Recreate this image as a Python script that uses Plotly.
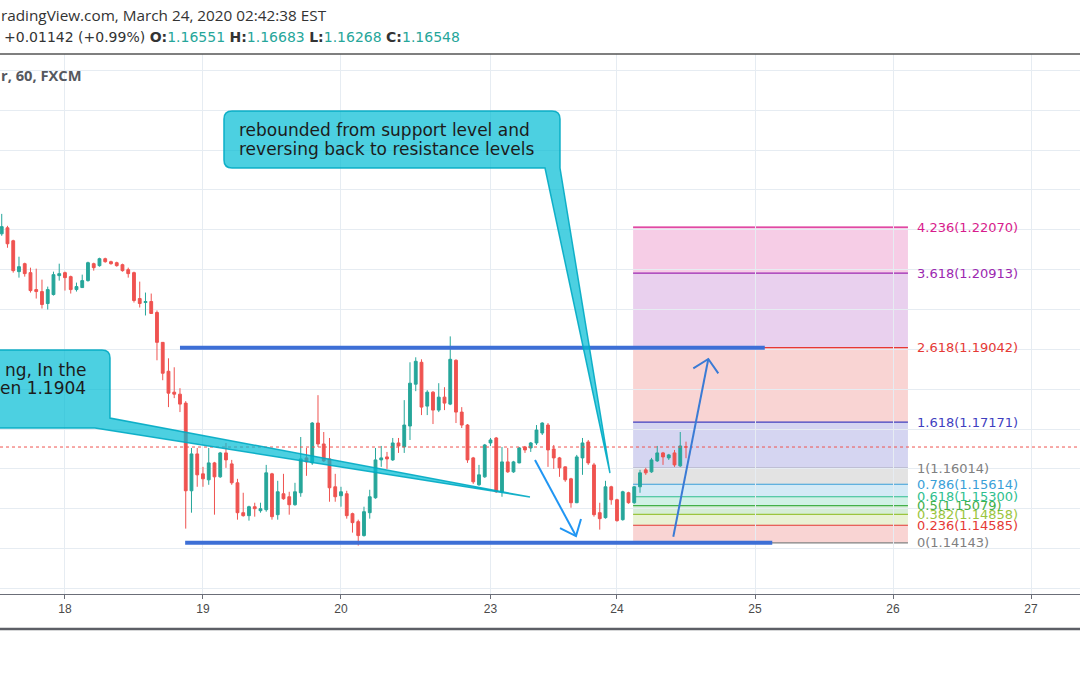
import plotly.graph_objects as go

# ---------------- data ----------------
# hourly bars, x = hours since Mar 18 00:00 on a trading-time axis
hours = list(range(-11, 109))

opens = [1.2190, 1.2205, 1.21725, 1.2095, 1.2115, 1.20925, 1.205, 1.2045, 1.2015, 1.20375,
         1.2085, 1.20925, 1.20825, 1.205, 1.2055, 1.20725, 1.2115, 1.211, 1.21275, 1.212,
         1.21175, 1.21125, 1.21, 1.20925, 1.20275, 1.20175, 1.202, 1.19925, 1.19175, 1.1845,
         1.17925, 1.17875, 1.1765, 1.1545, 1.16375, 1.15875, 1.15725, 1.1615, 1.158, 1.164,
         1.16125, 1.1565, 1.149, 1.14825, 1.1505, 1.1495, 1.14975, 1.15875, 1.1485, 1.15375,
         1.153, 1.151, 1.154, 1.16275, 1.1615, 1.1715, 1.16625, 1.1625, 1.1555, 1.15325,
         1.15375, 1.14875, 1.14675, 1.14325, 1.149, 1.15275, 1.16225, 1.163, 1.16225, 1.1665,
         1.1655, 1.17075, 1.18125, 1.18675, 1.17575, 1.17925, 1.17475, 1.178, 1.17625, 1.18725,
         1.17425, 1.171, 1.16275, 1.156, 1.158, 1.1665, 1.16775, 1.15425, 1.16175, 1.15925,
         1.1615, 1.1655, 1.16525, 1.1665, 1.169, 1.171, 1.165, 1.16275, 1.1605, 1.1575,
         1.1515, 1.16275, 1.16675, 1.161, 1.149, 1.14775, 1.1555, 1.15225, 1.14725, 1.154,
         1.1515, 1.1555, 1.15975, 1.15925, 1.162, 1.164, 1.16275, 1.164, 1.16075, 1.16551]
highs = [1.2240, 1.2210, 1.2175, 1.21325, 1.21175, 1.2105, 1.21025, 1.2075, 1.20575, 1.2095,
         1.2115, 1.2095, 1.2085, 1.20675, 1.20875, 1.212, 1.21175, 1.213, 1.213, 1.21225,
         1.212, 1.2115, 1.2105, 1.2095, 1.207, 1.20425, 1.204, 1.19975, 1.1918, 1.18775,
         1.1855, 1.18025, 1.177, 1.16525, 1.16525, 1.1605, 1.16525, 1.16175, 1.16425, 1.1665,
         1.16225, 1.1575, 1.154, 1.15075, 1.1515, 1.1515, 1.161, 1.159, 1.157, 1.15875,
         1.15425, 1.1565, 1.168, 1.16525, 1.17175, 1.1785, 1.16925, 1.16775, 1.15875, 1.1555,
         1.1545, 1.149, 1.14725, 1.1505, 1.15475, 1.16525, 1.16575, 1.16425, 1.16775, 1.16775,
         1.17725, 1.18675, 1.188, 1.1875, 1.17975, 1.1795, 1.1815, 1.1805, 1.19325, 1.1875,
         1.1755, 1.17125, 1.163, 1.161, 1.16625, 1.16775, 1.168, 1.1655, 1.16525, 1.162,
         1.1655, 1.16575, 1.16675, 1.171, 1.1717, 1.1715, 1.166, 1.163, 1.1606, 1.15775,
         1.1635, 1.16775, 1.16725, 1.1615, 1.1515, 1.157, 1.15575, 1.1525, 1.1545, 1.15425,
         1.1557, 1.15975, 1.16025, 1.16275, 1.16575, 1.16425, 1.16375, 1.16475, 1.16925, 1.16683]
lows = [1.2185, 1.2155, 1.20925, 1.208, 1.20825, 1.20425, 1.20275, 1.20025, 1.2000, 1.2035,
        1.20725, 1.20475, 1.204, 1.2045, 1.2054, 1.207, 1.20975, 1.21075, 1.21175, 1.21125,
        1.21075, 1.2095, 1.208, 1.20175, 1.2005, 1.1985, 1.1989, 1.18725, 1.18225, 1.1755,
        1.17775, 1.17425, 1.145, 1.149, 1.1555, 1.1555, 1.156, 1.1485, 1.15775, 1.16025,
        1.156, 1.14725, 1.148, 1.147, 1.148, 1.149, 1.14925, 1.14725, 1.14725, 1.15225,
        1.1485, 1.15075, 1.153, 1.15825, 1.161, 1.1655, 1.16175, 1.15175, 1.15175, 1.1505,
        1.1475, 1.144, 1.14075, 1.143, 1.1475, 1.1525, 1.1605, 1.16, 1.162, 1.164,
        1.164, 1.16725, 1.1795, 1.1735, 1.1735, 1.17125, 1.17425, 1.17475, 1.176, 1.1715,
        1.17025, 1.1615, 1.15625, 1.15575, 1.15775, 1.16575, 1.154, 1.153, 1.159, 1.159,
        1.1614, 1.164, 1.16425, 1.166, 1.1685, 1.1605, 1.16, 1.158, 1.15675, 1.15025,
        1.1514, 1.1585, 1.161, 1.148, 1.14475, 1.1475, 1.151, 1.14675, 1.147, 1.15125,
        1.15125, 1.154, 1.1585, 1.159, 1.16175, 1.161, 1.16225, 1.1605, 1.1605, 1.16268]
closes = [1.2208, 1.2165, 1.20975, 1.21075, 1.209, 1.20475, 1.2045, 1.20125, 1.2050, 1.20875,
          1.209, 1.208, 1.205, 1.20575, 1.20725, 1.21175, 1.2105, 1.21275, 1.212, 1.2115,
          1.211, 1.20975, 1.209, 1.20225, 1.2015, 1.202, 1.199, 1.19175, 1.184, 1.179,
          1.17875, 1.17625, 1.1545, 1.16375, 1.1585, 1.1575, 1.1615, 1.158, 1.164, 1.16225,
          1.1565, 1.149, 1.14825, 1.1505, 1.15, 1.15, 1.159, 1.148, 1.15425, 1.1525,
          1.151, 1.15425, 1.1625, 1.16175, 1.1715, 1.16625, 1.162, 1.15525, 1.153, 1.15425,
          1.14825, 1.1465, 1.14325, 1.14925, 1.153, 1.16225, 1.16275, 1.1625, 1.1665, 1.16575,
          1.171, 1.1815, 1.187, 1.1755, 1.17925, 1.17475, 1.178, 1.1765, 1.1875, 1.17425,
          1.171, 1.16225, 1.15675, 1.1585, 1.166, 1.16725, 1.15425, 1.16175, 1.15925, 1.16175,
          1.16525, 1.16475, 1.1665, 1.16975, 1.1715, 1.16475, 1.16275, 1.16025, 1.15725, 1.1515,
          1.163, 1.1665, 1.1615, 1.1485, 1.1475, 1.1555, 1.15225, 1.147, 1.15425, 1.1515,
          1.1555, 1.159, 1.159, 1.16225, 1.164, 1.163, 1.1635, 1.161, 1.16575, 1.16548]

# x-axis day labels (trading-time hour index)
day_ticks = [0, 24, 48, 74, 96, 120, 144, 168]
day_labels = ["18", "19", "20", "23", "24", "25", "26", "27"]

# Fibonacci extension
fib_ratios = ["0", "0.236", "0.382", "0.5", "0.618", "0.786", "1", "1.618", "2.618", "3.618", "4.236"]
fib_prices = [1.14143, 1.14585, 1.14858, 1.15079, 1.15300, 1.15614, 1.16014, 1.17171, 1.19042, 1.20913, 1.22070]
fib_colors = ["#808080", "#e53935", "#9bc53d", "#43b049", "#2fbf8f", "#3a9fd8", "#808080",
              "#3f3fbf", "#e53935", "#9c27b0", "#d81b8c"]
fib_span = [98.8, 146.6]          # hour index start / end of the fib box
fib_label_x = 147.8

# support / resistance
sr_prices = [1.19042, 1.14143]
sr_starts = [20.0, 20.9]
sr_ends = [121.7, 123.0]

last_price = 1.16548

# header quote (current bar)
hdr_change = "+0.01142 (+0.99%)"
hdr_keys = ["O:", "H:", "L:", "C:"]
hdr_vals = ["1.16551", "1.16683", "1.16268", "1.16548"]

# callout texts
upper_lines = ["rebounded from support level and", "reversing back to resistance levels"]
upper_line_prices = [1.24494, 1.24017]
left_lines = ["ng, In the", "en 1.1904"]
left_line_prices = [1.18481, 1.18029]

# ---------------- styling ----------------
UP = "#26a69a"
DOWN = "#ef5350"
GRID = "#e6ecf2"
X_RANGE = [-11.30, 176.52]
Y_RANGE = [1.12859, 1.26413]

fig = go.Figure()
fig.add_trace(go.Candlestick(
    x=hours, open=opens, high=highs, low=lows, close=closes,
    increasing=dict(line=dict(color=UP, width=1), fillcolor=UP),
    decreasing=dict(line=dict(color=DOWN, width=1), fillcolor=DOWN),
    whiskerwidth=0, showlegend=False, hoverinfo="skip",
))

shapes = []
annotations = []

def rgba(hexc, a):
    h = hexc.lstrip("#")
    return "rgba(%d,%d,%d,%s)" % (int(h[0:2], 16), int(h[2:4], 16), int(h[4:6], 16), a)

# fib zones
for i in range(1, len(fib_prices)):
    shapes.append(dict(type="rect", xref="x", yref="y", x0=fib_span[0], x1=fib_span[1],
                       y0=fib_prices[i - 1], y1=fib_prices[i],
                       fillcolor=rgba(fib_colors[i], 0.22), line=dict(width=0), layer="below"))
# fib lines + labels
for r, p, c in zip(fib_ratios, fib_prices, fib_colors):
    shapes.append(dict(type="line", xref="x", yref="y", x0=fib_span[0], x1=fib_span[1],
                       y0=p, y1=p, line=dict(color=c, width=1.2), layer="below"))
    annotations.append(dict(x=fib_label_x, y=p, xref="x", yref="y", xanchor="left", yanchor="middle",
                            text="%s(%.5f)" % (r, p), showarrow=False,
                            font=dict(family="DejaVu Sans", size=13, color=c)))

# last price dotted line
shapes.append(dict(type="line", xref="paper", yref="y", x0=0, x1=1, y0=last_price, y1=last_price,
                   line=dict(color=DOWN, width=1, dash="dot"), layer="above"))

# support / resistance lines
for p, a, b in zip(sr_prices, sr_starts, sr_ends):
    shapes.append(dict(type="line", xref="x", yref="y", x0=a, x1=b, y0=p, y1=p,
                       line=dict(color="#3d6fd6", width=4), layer="above"))

def pth(cmds):
    return " ".join(cmds)

# callouts
CALL_FILL = "rgba(0,188,212,0.70)"
CALL_LINE = "rgba(0,170,195,0.9)"
rh, rp = 1.39, 0.002
h1, h2, pt, pb = 27.65, 86.09, 1.24982, 1.23551
tip1 = (94.78, 1.15896)
base1 = 83.48
up_path = pth([
    f"M {h1+rh},{pt}", f"L {h2-rh},{pt}", f"Q {h2},{pt} {h2},{pt-rp}", f"L {h2},{pb}",
    f"L {tip1[0]},{tip1[1]}", f"L {base1},{pb}", f"L {h1+rh},{pb}",
    f"Q {h1},{pb} {h1},{pb+rp}", f"L {h1},{pt-rp}", f"Q {h1},{pt} {h1+rh},{pt}", "Z"])
shapes.append(dict(type="path", xref="x", yref="y", path=up_path, fillcolor=CALL_FILL,
                   line=dict(color=CALL_LINE, width=1.5), layer="above"))

hl, hr, lt, lb = -14.0, 7.83, 1.18983, 1.17025
tip2 = (80.87, 1.15293)
left_path = pth([
    f"M {hl},{lt}", f"L {hr-rh},{lt}", f"Q {hr},{lt} {hr},{lt-rp}", f"L {hr},1.17276",
    f"L {tip2[0]},{tip2[1]}", f"L 5.22,{lb}", f"L {hl},{lb}", "Z"])
shapes.append(dict(type="path", xref="x", yref="y", path=left_path, fillcolor=CALL_FILL,
                   line=dict(color=CALL_LINE, width=1.5), layer="above"))

CALL_FONT = dict(family="DejaVu Sans", size=17, color="#1c1c1c")
for txt, p in zip(upper_lines, upper_line_prices):
    annotations.append(dict(x=29.9, y=p, xref="x", yref="y", xanchor="left", yanchor="middle",
                            showarrow=False, text=txt, font=CALL_FONT))
for txt, p in zip(left_lines, left_line_prices):
    annotations.append(dict(x=4.0, y=p, xref="x", yref="y", xanchor="right", yanchor="middle",
                            showarrow=False, text=txt, font=CALL_FONT))

# arrows (shaft + open head)
arrows = [
    dict(start=(81.74, 1.16222), tip=(88.87, 1.14314), l=(86.09, 1.14515), r=(89.74, 1.14741), color="#2196f3"),
    dict(start=(105.79, 1.14297), tip=(111.88, 1.18757), l=(109.27, 1.18524), r=(113.62, 1.18398), color="#3a7bd5"),
]
for a in arrows:
    shapes.append(dict(type="line", xref="x", yref="y", x0=a["start"][0], y0=a["start"][1],
                       x1=a["tip"][0], y1=a["tip"][1], line=dict(color=a["color"], width=2), layer="above"))
    shapes.append(dict(type="path", xref="x", yref="y",
                       path=f"M {a['l'][0]},{a['l'][1]} L {a['tip'][0]},{a['tip'][1]} L {a['r'][0]},{a['r'][1]}",
                       line=dict(color=a["color"], width=2), fillcolor="rgba(0,0,0,0)", layer="above"))

# frame lines
shapes.append(dict(type="line", xref="paper", yref="paper", x0=0, x1=1, y0=1, y1=1,
                   line=dict(color="#555555", width=1.5)))
shapes.append(dict(type="line", xref="paper", yref="paper", x0=0, x1=1, y0=-0.0648, y1=-0.0648,
                   line=dict(color="#5d5f66", width=2.5)))

# header texts
annotations.append(dict(x=-0.001, y=1.0722, xref="paper", yref="paper", xanchor="left", yanchor="middle",
                        showarrow=False, text="radingView.com, March 24, 2020 02:42:38 EST",
                        font=dict(family="Open Sans", size=15.3, color="#333333")))
teal = "#26a69a"
hdr2 = hdr_change + " " + " ".join(
    f"<b>{k}</b><span style='color:{teal}'>{v}</span>" for k, v in zip(hdr_keys, hdr_vals))
annotations.append(dict(x=0.002, y=1.0315, xref="paper", yref="paper", xanchor="left", yanchor="middle",
                        showarrow=False, text=hdr2,
                        font=dict(family="DejaVu Sans", size=14, color="#333333")))
annotations.append(dict(x=-0.001, y=0.961, xref="paper", yref="paper", xanchor="left", yanchor="middle",
                        showarrow=False, text="<b>r, 60, FXCM</b>",
                        font=dict(family="Open Sans", size=14.7, color="#55585f")))

fig.update_layout(
    width=1080, height=675,
    margin=dict(l=0, r=0, t=54, b=81),
    paper_bgcolor="white", plot_bgcolor="white",
    showlegend=False,
    shapes=shapes, annotations=annotations,
    xaxis=dict(range=X_RANGE, tickmode="array", tickvals=day_ticks, ticktext=day_labels,
               showgrid=True, gridcolor=GRID, gridwidth=1, zeroline=False,
               showline=True, linecolor="#6b6e78", linewidth=1,
               ticks="outside", ticklen=4, tickcolor="#6b6e78",
               tickfont=dict(family="Liberation Sans Narrow, Liberation Sans", size=12, color="#4a4a4a"),
               rangeslider=dict(visible=False), fixedrange=True),
    yaxis=dict(range=Y_RANGE, tick0=1.0, dtick=0.01, showgrid=True, gridcolor=GRID, gridwidth=1,
               zeroline=False, showticklabels=False, showline=False, ticks="", fixedrange=True),
)

fig.write_html("out.html")
